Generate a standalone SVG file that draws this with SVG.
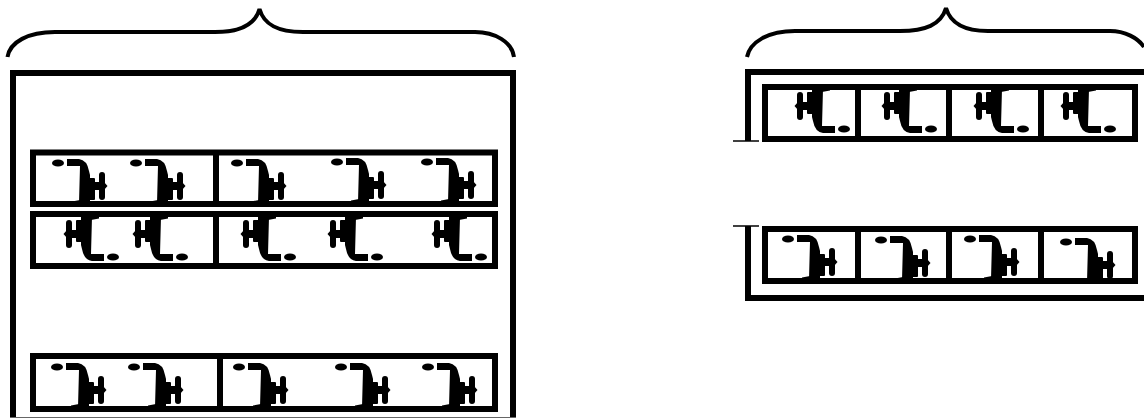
<svg xmlns="http://www.w3.org/2000/svg" width="1144" height="418" viewBox="0 0 1144 418">
<style>
.frame{fill:none;stroke:#000;stroke-width:6}
.brace{fill:none;stroke:#000;stroke-width:4;stroke-linejoin:bevel}
.tick{fill:none;stroke:#000;stroke-width:1.5}
.strip{fill:#fff;stroke:#000;stroke-width:6}
.div{stroke:#000;stroke-width:6;fill:none}
</style>
<defs>
<g id="fa">
<ellipse cx="0" cy="0" rx="6" ry="3.6"/>
<path d="M9,-4 L21,-4 Q29,-3 31,8 L32,12 L32,40 L21,40 L22,3 L9,3 Z"/>
<rect x="41" y="9" width="6" height="28" rx="3"/>
<rect x="31" y="15" width="6" height="22" rx="1"/>
<path d="M32,19 L46,19 L49.500,23 L46,27 L32,27 Z"/>
<path d="M14,38.500 L22,37 L22,40 L14,40 Z"/>
</g>
<use id="fb" href="#fa" transform="rotate(180)"/>
</defs>
<g id="left-brace"><path class="brace" d="M7.500,57 C10,42 28,32 55,32 L215,32 C240,32 255,25 259.500,9 C264,25 278,32 303,32 L475,32 C495,32 512,42 514,57"/></g>
<g id="right-brace"><path class="brace" d="M747,57 C750,42 768,31 795,31 L900,31 C925,31 941,25 946,8 C951,25 967,31 988,31 L1110,31 C1125,31 1138,38 1144,47"/></g>
<g id="left-frame"><path class="frame" d="M13,418 L13,73 L513,73 L513,418"/><path d="M10,417.500 H516" stroke="#666" stroke-width="1" fill="none"/></g>
<g id="strip-1">
<rect class="strip" x="33" y="152.500" width="462" height="51.500"/>
<path class="div" d="M216,152 V204"/>
<use href="#fa" x="58" y="163"/><use href="#fa" x="136" y="163"/><use href="#fa" x="237" y="163"/><use href="#fa" x="337" y="162"/><use href="#fa" x="427" y="162"/>
</g>
<g id="strip-2">
<rect class="strip" x="33" y="214" width="462" height="52"/>
<path class="div" d="M216,214 V266"/>
<use href="#fb" transform="translate(113,257)"/><use href="#fb" transform="translate(182,257)"/><use href="#fb" transform="translate(290,257)"/><use href="#fb" transform="translate(377,257)"/><use href="#fb" transform="translate(481,257)"/>
</g>
<g id="strip-3">
<rect class="strip" x="33" y="356" width="462" height="53"/>
<path class="div" d="M220,356 V409"/>
<use href="#fa" x="57" y="367"/><use href="#fa" x="134" y="367"/><use href="#fa" x="239" y="367"/><use href="#fa" x="341" y="367"/><use href="#fa" x="428" y="367"/>
</g>
<g id="right-frame-top"><path class="frame" d="M748,141 V72 H1144"/><path class="tick" d="M733,141 H759"/></g>
<g id="strip-4">
<rect class="strip" x="765" y="87" width="370" height="52"/>
<path class="div" d="M858,87 V139 M949,87 V139 M1041,87 V139"/>
<use href="#fb" transform="translate(844,129)"/><use href="#fb" transform="translate(931,129)"/><use href="#fb" transform="translate(1023,129)"/><use href="#fb" transform="translate(1110,129)"/>
</g>
<g id="right-frame-bottom"><path class="frame" d="M748,226 V298 H1144"/><path class="tick" d="M733,226 H759"/></g>
<g id="strip-5">
<rect class="strip" x="765" y="229" width="370" height="52"/>
<path class="div" d="M858,229 V281 M949,229 V281 M1041,229 V281"/>
<use href="#fa" x="788" y="239"/><use href="#fa" x="881" y="240"/><use href="#fa" x="970" y="239"/><use href="#fa" x="1066" y="242"/>
</g>
</svg>
